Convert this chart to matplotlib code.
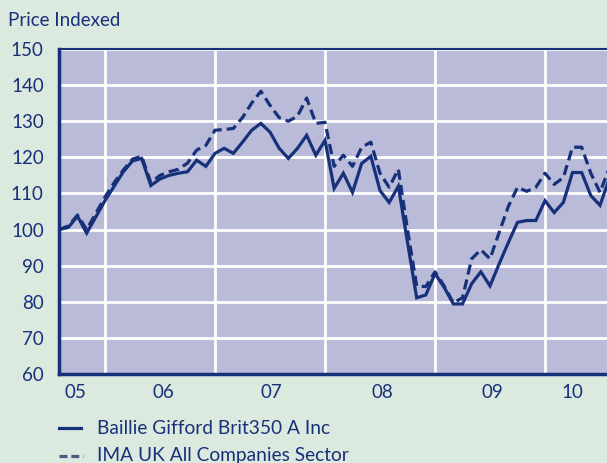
import numpy as np
import matplotlib
matplotlib.use("Agg")
import matplotlib.pyplot as plt
from matplotlib.lines import Line2D

# monthly index values, Aug 2005 .. Mar 2010 (month 0 = Jan 2006)
months = np.arange(-5, 56)
fund = [100, 100.6, 103.7, 99, 103.5, 108, 112, 116, 119, 119.7,
        112.2, 114, 115, 115.6, 116, 119.2, 117.5, 121.1, 122.5, 121.1,
        124.2, 127.5, 129.4, 127, 122.5, 119.7, 122.5, 126.1, 120.6, 124.7,
        111.4, 115.6, 110.3, 118.3, 120.3, 110.8, 107.5, 112, 96.5, 81.1,
        81.9, 87.8, 84, 79.4, 79.4, 85, 88.3, 84.4, 90.5, 96.4,
        102, 102.5, 102.5, 108, 104.7, 107.5, 115.8, 115.8, 109.4, 106.7,
        114]
sector = [100, 101, 104, 100, 104.5, 109, 113, 116.5, 119.5, 120.3,
          113, 115, 116, 116.7, 118.4, 122, 123.3, 127.5, 127.7, 128,
          131, 135, 138.3, 134.4, 131, 130, 131.4, 136.4, 129.4, 129.7,
          117.5, 120.6, 117.5, 122.8, 124.2, 115.6, 111.7, 116.7, 100, 84.4,
          84.2, 88.3, 84.4, 79.7, 81.1, 91.9, 94.4, 91.9, 99.2, 106.4,
          111.7, 110.6, 111.7, 115.6, 112.5, 114.4, 122.8, 122.8, 115.6, 110.3,
          117]
year_labels = ["05", "06", "07", "08", "09", "10"]
label_pos = [2005.73, 2006.53, 2007.51, 2008.52, 2009.52, 2010.25]
year_lines = [2006, 2007, 2008, 2009, 2010]

x = 2006 + months / 12.0

bg = "#dce9df"
face = "#babbd8"
navy = "#17307a"
plt.rcParams["font.family"] = ["Lato", "DejaVu Sans"]

fig = plt.figure(figsize=(6.07, 4.63), dpi=100, facecolor=bg)
ax = fig.add_axes([59 / 607, 1 - 374 / 463, 1 - 59 / 607, (374 - 49) / 463])
ax.set_facecolor(face)

ax.plot(x, fund, color=navy, lw=2.3, solid_joinstyle="miter", zorder=3)
ax.plot(x, sector, color=navy, lw=2.3, ls=(0, (3.2, 1.6)), zorder=3)

ax.set_ylim(60, 150)
ax.set_xlim(2006 - 46 / 110, 2006 + (607 - 105) / 110)
ax.set_yticks(np.arange(60, 151, 10))
ax.set_xticks(year_lines)
ax.set_xticklabels([])
ax.set_xticks(label_pos, minor=True)
ax.set_xticklabels(year_labels, minor=True)
ax.grid(True, color="white", lw=2)
ax.set_axisbelow(True)
ax.tick_params(which="both", length=0, labelsize=13.5, labelcolor=navy)
ax.tick_params(axis="y", pad=11)
ax.tick_params(axis="x", which="minor", pad=7)

for s in ["left", "bottom", "top"]:
    ax.spines[s].set_color(navy)
ax.spines["left"].set_linewidth(2.5)
ax.spines["bottom"].set_linewidth(2.5)
ax.spines["top"].set_linewidth(1.5)
ax.spines["right"].set_visible(False)

fig.text(8 / 607, 1 - 20 / 463, "Price Indexed", color=navy, fontsize=13.5,
         va="center", ha="left")

# legend drawn by hand, second row runs off the bottom edge like the original
fig.add_artist(Line2D([59 / 607, 81 / 607], [1 - 428 / 463] * 2, color=navy, lw=2.3))
fig.text(97 / 607, 1 - 428 / 463, "Baillie Gifford Brit350 A Inc", color=navy,
         fontsize=13.8, va="center", ha="left")
fig.add_artist(Line2D([59 / 607, 83 / 607], [1 - 456 / 463] * 2, color="#4a5a80",
                      lw=2.3, ls=(0, (2.5, 1.2))))
fig.text(97 / 607, 1 - 456 / 463, "IMA UK All Companies Sector", color=navy,
         fontsize=13.8, va="center", ha="left")

fig.savefig("out.png", dpi=100, facecolor=bg)
